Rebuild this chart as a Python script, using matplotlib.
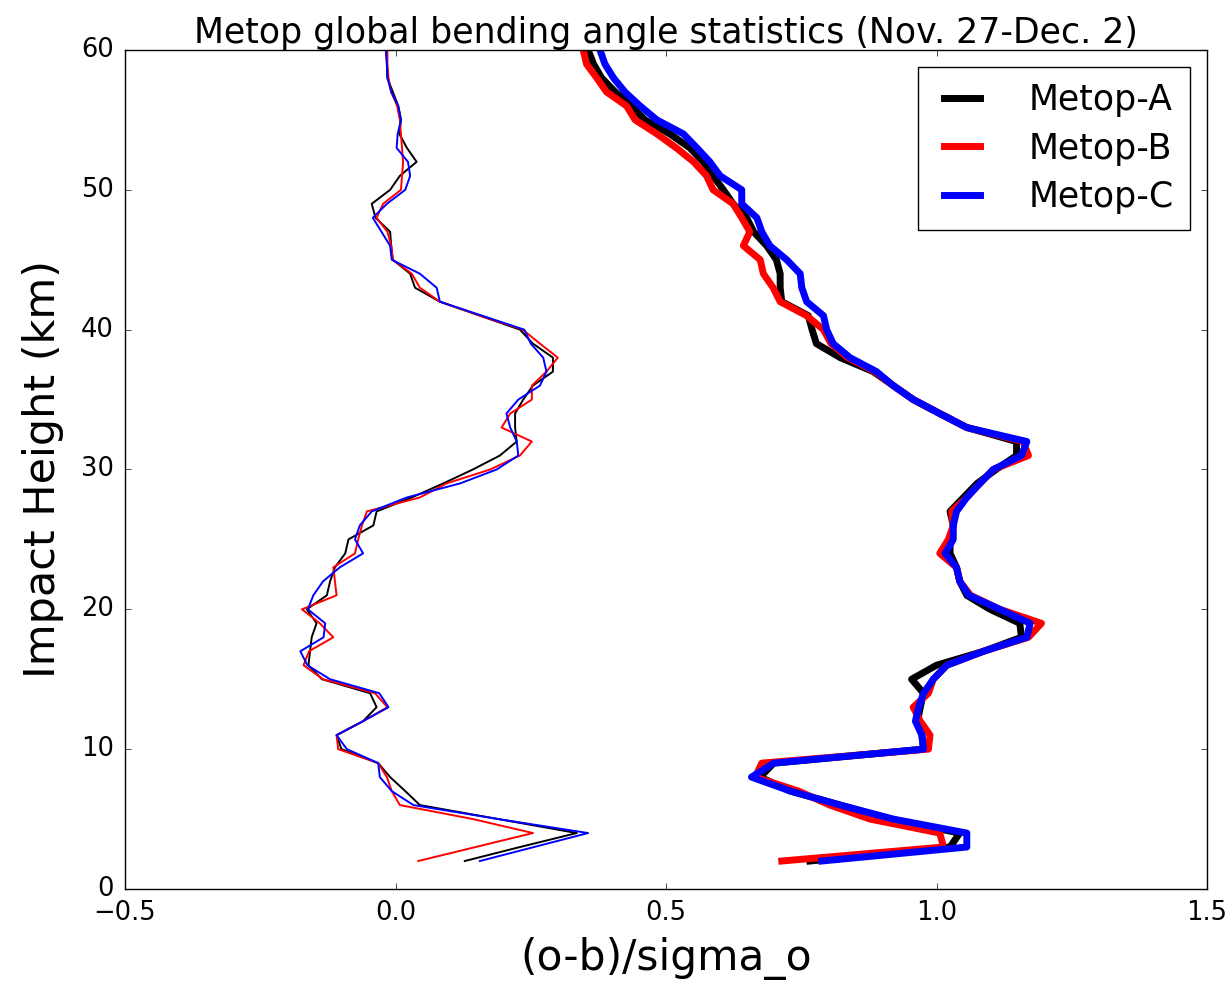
import matplotlib
matplotlib.use("Agg")
import matplotlib.pyplot as plt

plt.style.use("classic")
plt.rcParams["font.family"] = ["DejaVu Sans"]

heights = list(range(2, 61))

mean_a = [0.128, 0.23, 0.335, 0.19, 0.045, 0.018, -0.010, -0.032, -0.100, -0.109,
          -0.060, -0.035, -0.047, -0.136, -0.161, -0.158, -0.155, -0.146, -0.164, -0.127,
          -0.121, -0.112, -0.093, -0.087, -0.041, -0.035, 0.030, 0.088, 0.143, 0.193,
          0.224, 0.221, 0.221, 0.236, 0.254, 0.291, 0.291, 0.254, 0.230, 0.156,
          0.082, 0.036, 0.027, -0.005, -0.008, -0.010, -0.037, -0.044, -0.010, 0.008,
          0.039, 0.021, 0.007, 0.010, 0.005, -0.005, -0.015, -0.016, -0.017]
mean_b = [0.042, 0.148, 0.254, 0.143, 0.008, -0.007, -0.016, -0.032, -0.106, -0.109,
          -0.060, -0.015, -0.038, -0.134, -0.170, -0.160, -0.115, -0.140, -0.173, -0.109,
          -0.112, -0.115, -0.075, -0.069, -0.062, -0.053, 0.045, 0.094, 0.175, 0.230,
          0.252, 0.196, 0.212, 0.252, 0.252, 0.279, 0.300, 0.267, 0.235, 0.156,
          0.082, 0.045, 0.030, -0.005, -0.008, -0.015, -0.035, -0.023, 0.010, 0.012,
          0.014, 0.012, 0.010, 0.008, 0.003, -0.008, -0.013, -0.015, -0.015]
mean_c = [0.156, 0.256, 0.356, 0.19, 0.033, -0.007, -0.029, -0.032, -0.090, -0.109,
          -0.060, -0.013, -0.030, -0.121, -0.163, -0.176, -0.133, -0.130, -0.162, -0.152,
          -0.134, -0.103, -0.060, -0.075, -0.066, -0.044, 0.021, 0.119, 0.187, 0.227,
          0.224, 0.212, 0.205, 0.227, 0.267, 0.279, 0.273, 0.250, 0.238, 0.160,
          0.082, 0.076, 0.045, -0.007, -0.010, -0.026, -0.042, -0.016, 0.018, 0.027,
          0.023, 0.002, 0.004, 0.010, 0.005, -0.008, -0.015, -0.016, -0.018]

std_a = [0.766, 1.025, 1.043, 0.914, 0.822, 0.730, 0.674, 0.699, 0.976, 0.973,
         0.965, 0.970, 0.976, 0.954, 1.000, 1.087, 1.157, 1.154, 1.099, 1.056,
         1.043, 1.037, 1.025, 1.025, 1.031, 1.025, 1.050, 1.075, 1.110, 1.148,
         1.148, 1.056, 1.006, 0.957, 0.920, 0.883, 0.822, 0.778, 0.770, 0.763,
         0.714, 0.711, 0.711, 0.704, 0.686, 0.662, 0.649, 0.624, 0.606, 0.587,
         0.569, 0.544, 0.507, 0.461, 0.436, 0.406, 0.381, 0.366, 0.356]
std_b = [0.714, 1.013, 1.006, 0.877, 0.803, 0.745, 0.665, 0.677, 0.985, 0.988,
         0.970, 0.957, 0.985, 0.994, 1.019, 1.087, 1.170, 1.194, 1.117, 1.063,
         1.043, 1.037, 1.006, 1.022, 1.031, 1.028, 1.056, 1.080, 1.105, 1.170,
         1.160, 1.056, 1.006, 0.957, 0.920, 0.886, 0.836, 0.805, 0.791, 0.760,
         0.711, 0.698, 0.680, 0.674, 0.643, 0.655, 0.640, 0.624, 0.587, 0.575,
         0.551, 0.519, 0.483, 0.443, 0.427, 0.390, 0.372, 0.353, 0.347]
std_c = [0.788, 1.056, 1.056, 0.920, 0.822, 0.730, 0.658, 0.699, 0.976, 0.973,
         0.961, 0.967, 0.976, 0.994, 1.019, 1.087, 1.167, 1.173, 1.117, 1.060,
         1.043, 1.037, 1.016, 1.031, 1.031, 1.037, 1.056, 1.080, 1.105, 1.157,
         1.167, 1.056, 1.006, 0.957, 0.920, 0.889, 0.840, 0.809, 0.797, 0.791,
         0.760, 0.751, 0.748, 0.723, 0.692, 0.677, 0.668, 0.640, 0.640, 0.600,
         0.581, 0.557, 0.532, 0.483, 0.452, 0.424, 0.403, 0.387, 0.378]

labels = ["Metop-A", "Metop-B", "Metop-C"]
colors = ["k", "r", "b"]

fig = plt.figure(figsize=(12.32, 9.86), dpi=100, facecolor="white")
ax = fig.add_axes([0.1015, 0.0984, 0.8782, 0.8509])

for m, c in zip([mean_a, mean_b, mean_c], colors):
    ax.plot(m, heights, color=c, lw=1.4)
for s, c, lab in zip([std_a, std_b, std_c], colors, labels):
    ax.plot(s, heights, color=c, lw=5, label=lab)

ax.set_xlim(-0.5, 1.5)
ax.set_ylim(0, 60)
ax.set_xticks([-0.5, 0.0, 0.5, 1.0, 1.5])
ax.set_yticks([0, 10, 20, 30, 40, 50, 60])
ax.tick_params(labelsize=18.5, pad=8)
ax.set_title("Metop global bending angle statistics (Nov. 27-Dec. 2)", fontsize=25, y=1.0)
ax.set_xlabel("(o-b)/sigma_o", fontsize=30.5, labelpad=8)
ax.set_ylabel("Impact Height (km)", fontsize=31, labelpad=12)
leg = ax.legend(loc="upper right", fontsize=25, handlelength=1.65, handletextpad=1.1,
                borderaxespad=0.5, labelspacing=0.42, borderpad=0.45)

fig.savefig("out.png", dpi=100, facecolor="white")
